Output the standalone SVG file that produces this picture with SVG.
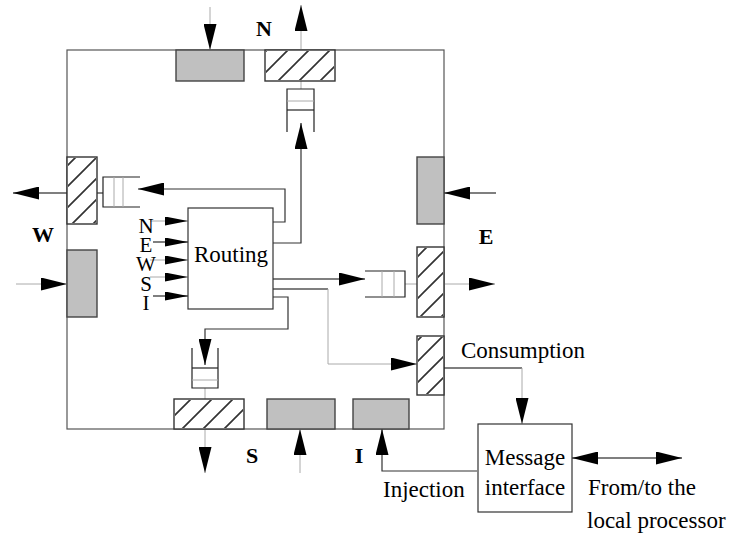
<svg xmlns="http://www.w3.org/2000/svg" width="735" height="535" viewBox="0 0 735 535">
<defs>
<pattern id="hatch" patternUnits="userSpaceOnUse" width="21" height="21" x="2" y="0">
<path d="M-5,5 L5,-5 M0,21 L21,0 M16,26 L26,16" stroke="#333" stroke-width="1.7"/>
</pattern>
<marker id="ah" markerUnits="userSpaceOnUse" markerWidth="26" markerHeight="13" refX="26" refY="6.5" orient="auto">
<path d="M0,0 L26,6.5 L0,13 Z" fill="#000"/>
</marker>
<marker id="ahs" markerUnits="userSpaceOnUse" markerWidth="26" markerHeight="13" refX="0" refY="6.5" orient="auto">
<path d="M26,0 L0,6.5 L26,13 Z" fill="#000"/>
</marker>
<marker id="am" markerUnits="userSpaceOnUse" markerWidth="23" markerHeight="9" refX="23" refY="4.5" orient="auto">
<path d="M0,0 L23,4.5 L0,9 Z" fill="#000"/>
</marker>
</defs>
<style>
.frame{fill:none;stroke:#555;stroke-width:1.2}
.gray{fill:#c0c0c0;stroke:#444;stroke-width:1.4}
.hat{fill:#fff;stroke:#333;stroke-width:1.4}
.hatf{fill:url(#hatch);stroke:none}
.q{fill:none;stroke:#222;stroke-width:1.2}
.qd{stroke:#aaa;stroke-width:1}
.qk{stroke:#222;stroke-width:1.2}
.c{fill:none;stroke:#333;stroke-width:1.2}
.cg{fill:none;stroke:#aaa;stroke-width:1}
.cb{fill:none;stroke:#000;stroke-width:1.2}
.arr{marker-end:url(#ah)}
.arm{marker-end:url(#am)}
.t{font-family:"Liberation Serif","Times New Roman",serif;font-size:23px;fill:#000}
.s{font-family:"Liberation Serif","Times New Roman",serif;font-size:21px;fill:#000}
.b{font-family:"Liberation Serif","Times New Roman",serif;font-size:22px;font-weight:bold;fill:#000}
.box{fill:#fff;stroke:#333;stroke-width:1.2}
</style>
<rect id="frame" class="frame" x="67" y="50" width="377" height="379"/>

<g id="connectors">
<line class="cg arr" x1="210" y1="7" x2="210" y2="50"/>
<line class="cg arr" x1="301" y1="50" x2="301" y2="5"/>
<line class="cb arr" x1="67" y1="193" x2="13" y2="193"/>
<line class="cg arr" x1="16" y1="284" x2="67" y2="284"/>
<line class="cb arr" x1="496" y1="193" x2="444" y2="193"/>
<line class="cg arr" x1="444" y1="284" x2="495" y2="284"/>
<line class="cg arr" x1="205" y1="429" x2="205" y2="473"/>
<line class="cg arr" x1="300" y1="473" x2="300" y2="429"/>
<polyline class="c arr" points="477,471 382,471 382,429"/>
<line class="cb" x1="444" y1="368" x2="522" y2="368"/>
<line class="cg arr" x1="522" y1="368" x2="522" y2="424"/>
<line class="cb arr" x1="572" y1="458" x2="682" y2="458" style="marker-start:url(#ahs)"/>
<line class="cg" x1="301" y1="81" x2="301" y2="89"/>
<line class="c" x1="97" y1="193" x2="103" y2="193"/>
<line class="cg" x1="405" y1="284" x2="417" y2="284"/>
<line class="cg" x1="205" y1="388" x2="205" y2="399"/>
<line class="cg arm" x1="150" y1="221" x2="188" y2="221"/>
<line class="cb arm" x1="153" y1="242" x2="188" y2="242"/>
<line class="cg arm" x1="150" y1="260" x2="188" y2="260"/>
<line class="cg arm" x1="150" y1="277" x2="188" y2="277"/>
<line class="cb arm" x1="153" y1="296" x2="188" y2="296"/>
<polyline class="c arr" points="273,222 285,222 285,189 138,189"/>
<polyline class="c arr" points="273,243 301,243 301,123"/>
<line class="cb arr" x1="273" y1="279" x2="365" y2="279"/>
<polyline class="cb" points="273,289 328,289"/>
<polyline class="cg arr" points="328,289 328,364 417,364"/>
<polyline class="c arr" points="273,297 288,297 288,329 205,329 205,365"/>
</g>

<g id="port-n-in"><rect class="gray" x="176" y="50" width="68" height="31"/></g>
<g id="port-n-out"><rect class="hat" x="265" y="50" width="70" height="31"/><rect class="hatf" x="266" y="51" width="68" height="29"/></g>
<g id="port-w-out"><rect class="hat" x="67" y="157" width="30" height="67"/><rect class="hatf" x="68" y="158" width="28" height="65"/></g>
<g id="port-w-in"><rect class="gray" x="67" y="250" width="30" height="67"/></g>
<g id="port-e-in"><rect class="gray" x="417" y="157" width="27" height="67"/></g>
<g id="port-e-out"><rect class="hat" x="417" y="247" width="27" height="70"/><rect class="hatf" x="418" y="248" width="25" height="68"/></g>
<g id="port-consumption"><rect class="hat" x="417" y="336" width="27" height="59"/><rect class="hatf" x="418" y="337" width="25" height="57"/></g>
<g id="port-s-out"><rect class="hat" x="174" y="399" width="70" height="30"/><rect class="hatf" x="175" y="400" width="68" height="28"/></g>
<g id="port-s-in"><rect class="gray" x="267" y="399" width="68" height="30"/></g>
<g id="port-i-in"><rect class="gray" x="353" y="399" width="56" height="30"/></g>

<g id="queue-n"><path class="q" d="M287,132 V89 H314 V132"/><line class="qd" x1="287" y1="101" x2="314" y2="101"/><line class="qk" x1="287" y1="110" x2="314" y2="110"/></g>
<g id="queue-w"><path class="q" d="M140,177 H103 V207 H140"/><line class="qd" x1="114" y1="177" x2="114" y2="207"/><line class="qd" x1="123" y1="177" x2="123" y2="207"/></g>
<g id="queue-e"><path class="q" d="M365,271 H405 V297 H365"/><line class="qd" x1="382" y1="271" x2="382" y2="297"/><line class="qd" x1="394" y1="271" x2="394" y2="297"/></g>
<g id="queue-s"><path class="q" d="M192,348 V388 H218 V348"/><line class="qk" x1="192" y1="368" x2="218" y2="368"/><line class="qd" x1="192" y1="380" x2="218" y2="380"/></g>

<g id="router"><rect class="box" x="188" y="208" width="85" height="101"/><text class="t" x="231" y="262" text-anchor="middle">Routing</text></g>
<g id="router-inputs">
<text class="s" x="146" y="233" text-anchor="middle">N</text>
<text class="s" x="146" y="252" text-anchor="middle">E</text>
<text class="s" x="146" y="271" text-anchor="middle">W</text>
<text class="s" x="146" y="291" text-anchor="middle">S</text>
<text class="s" x="146" y="310" text-anchor="middle">I</text>
</g>

<g id="message-interface"><rect class="box" x="478" y="424" width="94" height="88"/>
<text class="t" x="525" y="465" text-anchor="middle">Message</text>
<text class="t" x="525" y="495" text-anchor="middle">interface</text></g>

<g id="labels">
<text class="b" x="264" y="36" text-anchor="middle">N</text>
<text class="b" x="43" y="242" text-anchor="middle">W</text>
<text class="b" x="486" y="244" text-anchor="middle">E</text>
<text class="b" x="252" y="463" text-anchor="middle">S</text>
<text class="b" x="359" y="463" text-anchor="middle">I</text>
<text class="t" x="461" y="358">Consumption</text>
<text class="t" x="383" y="497">Injection</text>
<text class="t" x="588" y="495">From/to the</text>
<text class="t" x="587" y="528">local processor</text>
</g>
</svg>
